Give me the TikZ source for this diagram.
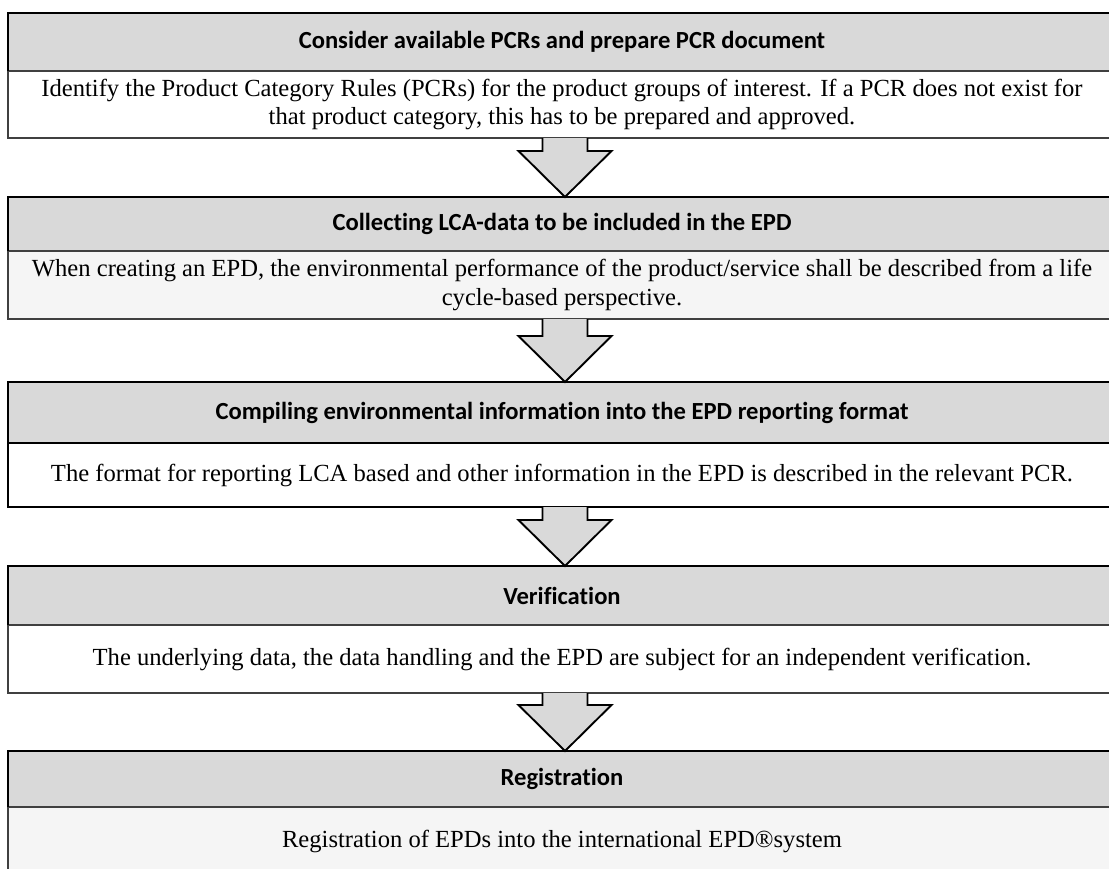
\documentclass[tikz,border=0pt]{standalone}
\usepackage{fontspec}
\setmainfont{Liberation Serif}
\newfontfamily\hdrfont[Ligatures=NoCommon]{Carlito}
\usetikzlibrary{calc}
\tikzset{
  hdr/.style={rectangle, fill=black!15, draw=none, minimum width=1108pt, inner sep=0pt, outer sep=0pt, anchor=north, font=\hdrfont\bfseries\fontsize{24.6}{28}\selectfont},
  bodybox/.style={rectangle, draw=black!75, line width=1.3pt, minimum width=1108pt, inner sep=0pt, outer sep=0pt, anchor=north, align=center, font=\fontsize{24.6}{28.5}\selectfont},
  solidbox/.style={bodybox, draw=black},
  hdrline/.style={draw=black, line width=1.7pt},
  arrowfill/.style={fill=black!15},
  arrowline/.style={draw=black, line width=1.9pt, line join=miter},
}
\newcommand\flowarrow[2]{%
  \fill[arrowfill] ($(#1.south)+(-19.5,0)$) -- ($(#2.north)+(-19.5,-46)$) -- ($(#2.north)+(-43.5,-46)$) -- ($(#2.north)+(3,0)$) -- ($(#2.north)+(49.5,-46)$) -- ($(#2.north)+(25.5,-46)$) -- ($(#1.south)+(25.5,0)$) -- cycle;
  \draw[arrowline] ($(#1.south)+(-19.5,0)$) -- ($(#2.north)+(-19.5,-46)$) -- ($(#2.north)+(-43.5,-46)$) -- ($(#2.north)+(3,0)$) -- ($(#2.north)+(49.5,-46)$) -- ($(#2.north)+(25.5,-46)$) -- ($(#1.south)+(25.5,0)$);
}
\newcommand\hdrborder[1]{%
  \draw[hdrline] (#1.south west) -- (#1.north west) -- (#1.north east) -- (#1.south east);
}
\begin{document}
\begin{tikzpicture}[x=1pt,y=-1pt]
\useasboundingbox (0,0) rectangle (1109,868);
% box 1
\node[hdr, minimum height=58pt] (h1) at (562,13) {Consider available PCRs and prepare PCR document};
\node[bodybox, minimum height=67pt] (b1) at (562,71) {Identify the Product Category Rules (PCRs) for the product groups of interest. If a PCR does not exist for\\that product category, this has to be prepared and approved.};
\hdrborder{h1}
% box 2
\node[hdr, minimum height=54pt] (h2) at (562,197) {Collecting LCA-data to be included in the EPD};
\node[bodybox, fill=black!4, minimum height=68pt] (b2) at (562,251) {When creating an EPD, the environmental performance of the product/service shall be described from a life\\cycle-based perspective.};
\hdrborder{h2}
% box 3
\node[hdr, minimum height=61pt] (h3) at (562,382) {Compiling environmental information into the EPD reporting format};
\node[solidbox, minimum height=64pt] (b3) at (562,443) {The format for reporting LCA based and other information in the EPD is described in the relevant PCR.};
\hdrborder{h3}
% box 4
\node[hdr, minimum height=59pt] (h4) at (562,566) {Verification};
\node[bodybox, minimum height=68pt] (b4) at (562,625) {The underlying data, the data handling and the EPD are subject for an independent verification.};
\hdrborder{h4}
% box 5
\node[hdr, minimum height=56pt] (h5) at (562,751) {Registration};
\node[bodybox, fill=black!4, minimum height=68pt] (b5) at (562,807) {Registration of EPDs into the international EPD®system};
\hdrborder{h5}
% arrows
\flowarrow{b1}{h2}
\flowarrow{b2}{h3}
\flowarrow{b3}{h4}
\flowarrow{b4}{h5}
\end{tikzpicture}
\end{document}
